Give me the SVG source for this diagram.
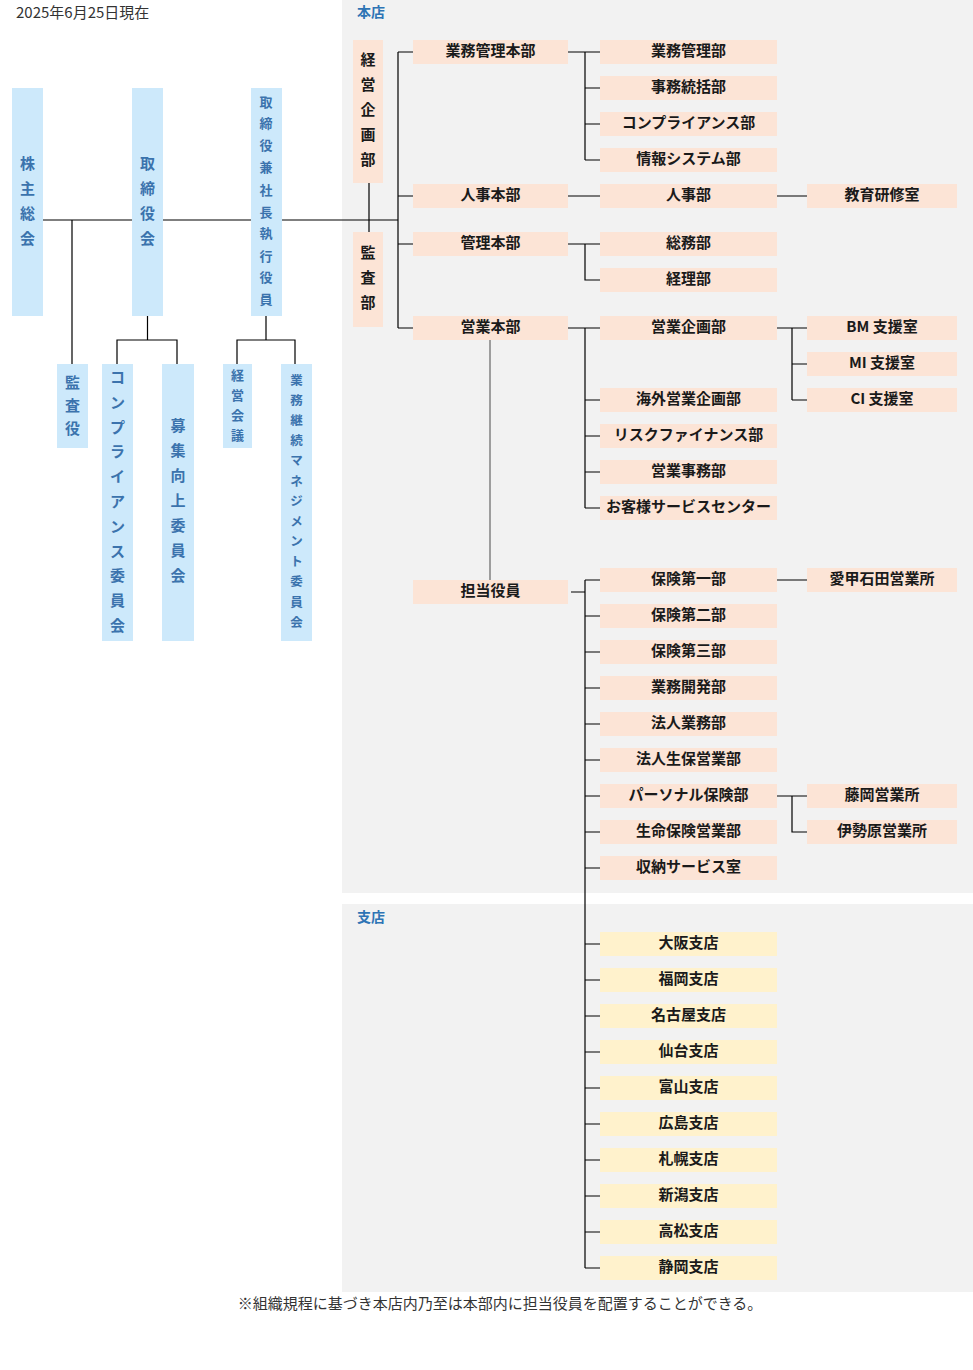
<svg xmlns="http://www.w3.org/2000/svg" width="973" height="1370" viewBox="0 0 973 1370">
<style>
.bg{fill:#f2f2f2}
.hb{fill:#fce4d6}
.yb{fill:#fff2cc}
.bb{fill:#cde9fb}
.t{font-family:"Noto Sans CJK JP","Noto Sans",sans-serif;font-weight:bold;font-size:15px;fill:#1a1a1a;text-anchor:middle;dominant-baseline:central;transform:translate(0px,-1.5px)}
.v{font-family:"Noto Sans CJK JP","Noto Sans",sans-serif;font-weight:bold;font-size:15px;fill:#3b73ad;text-anchor:middle;dominant-baseline:central;transform:translate(0px,-1.5px)}
.vs{font-size:13px}
.vx{font-size:12.5px}
.lbl{font-family:"Noto Sans CJK JP","Noto Sans",sans-serif;font-weight:bold;font-size:14px;fill:#2e74b5;dominant-baseline:central;transform:translate(0px,-1px)}
.n{font-family:"Noto Sans CJK JP","Noto Sans",sans-serif;font-size:15px;fill:#333;dominant-baseline:central;transform:translate(0px,-1px)}
.c{stroke:#000;stroke-width:1.2;fill:none}
.g{stroke:#666;stroke-width:1.2;fill:none}
</style>
<rect width="973" height="1370" fill="#fff"/>
<rect class="bg" x="342" y="0" width="631" height="893"/>
<rect class="bg" x="342" y="904" width="631" height="388"/>
<text class="n" x="16" y="12" font-size="15.5">2025年6月25日現在</text>
<text class="lbl" x="357" y="12">本店</text>
<text class="lbl" x="357" y="917">支店</text>
<text class="n" x="500" y="1303" text-anchor="middle">※組織規程に基づき本店内乃至は本部内に担当役員を配置することができる。</text>

<g id="connectors">
<path class="c" d="M43 220H398M72 220V364M147.5 316V340M117 364V340H177V364M266 316V340M237 364V340H295V364M369 183V232"/>
<path class="c" d="M398 52V328M398 52H413M398 196H413M398 244H413M398 328H413"/>
<path class="c" d="M568 52H600M585 52V160M585 88H600M585 124H600M585 160H600"/>
<path class="c" d="M568 196H600M777 196H807"/>
<path class="c" d="M568 244H600M585 244V280H600"/>
<path class="c" d="M568 328H600M585 328V508M585 400H600M585 436H600M585 472H600M585 508H600"/>
<path class="c" d="M777 328H807M792 328V400M792 364H807M792 400H807"/>
<path class="g" d="M490 340V580"/>
<path class="c" d="M571 592H585M585 580V1268M585 580H600M585 616H600M585 652H600M585 688H600M585 724H600M585 760H600M585 796H600M585 832H600M585 868H600"/>
<path class="c" d="M777 580H807M777 796H807M792 796V832H807"/>
<path class="c" d="M585 944H600M585 980H600M585 1016H600M585 1052H600M585 1088H600M585 1124H600M585 1160H600M585 1196H600M585 1232H600M585 1268H600"/>
</g>

<g id="kabunushi"><rect class="bb" x="12" y="88" width="31" height="228"/><text class="v"><tspan x="27.5" y="163">株</tspan><tspan x="27.5" y="188">主</tspan><tspan x="27.5" y="213">総</tspan><tspan x="27.5" y="238">会</tspan></text></g>
<g id="torishimariyakukai"><rect class="bb" x="132" y="88" width="31" height="228"/><text class="v"><tspan x="147.5" y="163">取</tspan><tspan x="147.5" y="188">締</tspan><tspan x="147.5" y="213">役</tspan><tspan x="147.5" y="238">会</tspan></text></g>
<g id="shacho"><rect class="bb" x="251" y="88" width="31" height="228"/><text class="v vs"><tspan x="266" y="102">取</tspan><tspan x="266" y="123">締</tspan><tspan x="266" y="145">役</tspan><tspan x="266" y="167">兼</tspan><tspan x="266" y="190">社</tspan><tspan x="266" y="212">長</tspan><tspan x="266" y="233">執</tspan><tspan x="266" y="256">行</tspan><tspan x="266" y="277">役</tspan><tspan x="266" y="299">員</tspan></text></g>
<g id="kansayaku"><rect class="bb" x="57" y="364" width="31" height="84"/><text class="v"><tspan x="72.5" y="382">監</tspan><tspan x="72.5" y="405">査</tspan><tspan x="72.5" y="428">役</tspan></text></g>
<g id="compliance-iinkai"><rect class="bb" x="102" y="364" width="31" height="277"/><text class="v"><tspan x="117.5" y="377">コ</tspan><tspan x="117.5" y="402">ン</tspan><tspan x="117.5" y="427">プ</tspan><tspan x="117.5" y="451">ラ</tspan><tspan x="117.5" y="476">イ</tspan><tspan x="117.5" y="501">ア</tspan><tspan x="117.5" y="526">ン</tspan><tspan x="117.5" y="551">ス</tspan><tspan x="117.5" y="575">委</tspan><tspan x="117.5" y="600">員</tspan><tspan x="117.5" y="625">会</tspan></text></g>
<g id="boshu-iinkai"><rect class="bb" x="162" y="364" width="32" height="277"/><text class="v"><tspan x="178" y="425">募</tspan><tspan x="178" y="450">集</tspan><tspan x="178" y="475">向</tspan><tspan x="178" y="500">上</tspan><tspan x="178" y="525">委</tspan><tspan x="178" y="550">員</tspan><tspan x="178" y="575">会</tspan></text></g>
<g id="keiei-kaigi"><rect class="bb" x="223" y="364" width="29" height="84"/><text class="v vs"><tspan x="237.5" y="375">経</tspan><tspan x="237.5" y="395">営</tspan><tspan x="237.5" y="415">会</tspan><tspan x="237.5" y="435">議</tspan></text></g>
<g id="bcm-iinkai"><rect class="bb" x="281" y="364" width="31" height="277"/><text class="v vx"><tspan x="296.5" y="380">業</tspan><tspan x="296.5" y="400">務</tspan><tspan x="296.5" y="420">継</tspan><tspan x="296.5" y="440">続</tspan><tspan x="296.5" y="460">マ</tspan><tspan x="296.5" y="481">ネ</tspan><tspan x="296.5" y="501">ジ</tspan><tspan x="296.5" y="521">メ</tspan><tspan x="296.5" y="541">ン</tspan><tspan x="296.5" y="561">ト</tspan><tspan x="296.5" y="581">委</tspan><tspan x="296.5" y="602">員</tspan><tspan x="296.5" y="622">会</tspan></text></g>

<g id="keiei-kikakubu"><rect class="hb" x="353" y="40" width="30" height="143"/><text class="t"><tspan x="368" y="59">経</tspan><tspan x="368" y="84">営</tspan><tspan x="368" y="109">企</tspan><tspan x="368" y="134">画</tspan><tspan x="368" y="159">部</tspan></text></g>
<g id="kansabu"><rect class="hb" x="353" y="232" width="30" height="95"/><text class="t"><tspan x="368" y="252">監</tspan><tspan x="368" y="277">査</tspan><tspan x="368" y="302">部</tspan></text></g>

<g id="gyomu-kanri-honbu"><rect class="hb" x="413" y="40" width="155" height="24"/><text class="t" x="490.5" y="51">業務管理本部</text></g>
<g id="jinji-honbu"><rect class="hb" x="413" y="184" width="155" height="24"/><text class="t" x="490.5" y="195">人事本部</text></g>
<g id="kanri-honbu"><rect class="hb" x="413" y="232" width="155" height="24"/><text class="t" x="490.5" y="243">管理本部</text></g>
<g id="eigyo-honbu"><rect class="hb" x="413" y="316" width="155" height="24"/><text class="t" x="490.5" y="327">営業本部</text></g>
<g id="tanto-yakuin"><rect class="hb" x="413" y="580" width="155" height="24"/><text class="t" x="490.5" y="591">担当役員</text></g>

<g id="gyomu-kanribu"><rect class="hb" x="600" y="40" width="177" height="24"/><text class="t" x="688.5" y="51">業務管理部</text></g>
<g id="jimu-tokatsubu"><rect class="hb" x="600" y="76" width="177" height="24"/><text class="t" x="688.5" y="87">事務統括部</text></g>
<g id="compliancebu"><rect class="hb" x="600" y="112" width="177" height="24"/><text class="t" x="688.5" y="123">コンプライアンス部</text></g>
<g id="joho-systembu"><rect class="hb" x="600" y="148" width="177" height="24"/><text class="t" x="688.5" y="159">情報システム部</text></g>
<g id="jinjibu"><rect class="hb" x="600" y="184" width="177" height="24"/><text class="t" x="688.5" y="195">人事部</text></g>
<g id="somubu"><rect class="hb" x="600" y="232" width="177" height="24"/><text class="t" x="688.5" y="243">総務部</text></g>
<g id="keiribu"><rect class="hb" x="600" y="268" width="177" height="24"/><text class="t" x="688.5" y="279">経理部</text></g>
<g id="eigyo-kikakubu"><rect class="hb" x="600" y="316" width="177" height="24"/><text class="t" x="688.5" y="327">営業企画部</text></g>
<g id="kaigai-eigyo-kikakubu"><rect class="hb" x="600" y="388" width="177" height="24"/><text class="t" x="688.5" y="399">海外営業企画部</text></g>
<g id="risk-financebu"><rect class="hb" x="600" y="424" width="177" height="24"/><text class="t" x="688.5" y="435">リスクファイナンス部</text></g>
<g id="eigyo-jimubu"><rect class="hb" x="600" y="460" width="177" height="24"/><text class="t" x="688.5" y="471">営業事務部</text></g>
<g id="customer-center"><rect class="hb" x="600" y="496" width="177" height="24"/><text class="t" x="688.5" y="507">お客様サービスセンター</text></g>
<g id="hoken1"><rect class="hb" x="600" y="568" width="177" height="24"/><text class="t" x="688.5" y="579">保険第一部</text></g>
<g id="hoken2"><rect class="hb" x="600" y="604" width="177" height="24"/><text class="t" x="688.5" y="615">保険第二部</text></g>
<g id="hoken3"><rect class="hb" x="600" y="640" width="177" height="24"/><text class="t" x="688.5" y="651">保険第三部</text></g>
<g id="gyomu-kaihatsubu"><rect class="hb" x="600" y="676" width="177" height="24"/><text class="t" x="688.5" y="687">業務開発部</text></g>
<g id="hojin-gyomubu"><rect class="hb" x="600" y="712" width="177" height="24"/><text class="t" x="688.5" y="723">法人業務部</text></g>
<g id="hojin-seiho"><rect class="hb" x="600" y="748" width="177" height="24"/><text class="t" x="688.5" y="759">法人生保営業部</text></g>
<g id="personal"><rect class="hb" x="600" y="784" width="177" height="24"/><text class="t" x="688.5" y="795">パーソナル保険部</text></g>
<g id="seimei"><rect class="hb" x="600" y="820" width="177" height="24"/><text class="t" x="688.5" y="831">生命保険営業部</text></g>
<g id="shuno"><rect class="hb" x="600" y="856" width="177" height="24"/><text class="t" x="688.5" y="867">収納サービス室</text></g>

<g id="kyoiku"><rect class="hb" x="807" y="184" width="150" height="24"/><text class="t" x="882" y="195">教育研修室</text></g>
<g id="bm"><rect class="hb" x="807" y="316" width="150" height="24"/><text class="t" x="882" y="327">BM 支援室</text></g>
<g id="mi"><rect class="hb" x="807" y="352" width="150" height="24"/><text class="t" x="882" y="363">MI 支援室</text></g>
<g id="ci"><rect class="hb" x="807" y="388" width="150" height="24"/><text class="t" x="882" y="399">CI 支援室</text></g>
<g id="aikoishida"><rect class="hb" x="807" y="568" width="150" height="24"/><text class="t" x="882" y="579">愛甲石田営業所</text></g>
<g id="fujioka"><rect class="hb" x="807" y="784" width="150" height="24"/><text class="t" x="882" y="795">藤岡営業所</text></g>
<g id="isehara"><rect class="hb" x="807" y="820" width="150" height="24"/><text class="t" x="882" y="831">伊勢原営業所</text></g>

<g id="osaka"><rect class="yb" x="600" y="932" width="177" height="24"/><text class="t" x="688.5" y="943">大阪支店</text></g>
<g id="fukuoka"><rect class="yb" x="600" y="968" width="177" height="24"/><text class="t" x="688.5" y="979">福岡支店</text></g>
<g id="nagoya"><rect class="yb" x="600" y="1004" width="177" height="24"/><text class="t" x="688.5" y="1015">名古屋支店</text></g>
<g id="sendai"><rect class="yb" x="600" y="1040" width="177" height="24"/><text class="t" x="688.5" y="1051">仙台支店</text></g>
<g id="toyama"><rect class="yb" x="600" y="1076" width="177" height="24"/><text class="t" x="688.5" y="1087">富山支店</text></g>
<g id="hiroshima"><rect class="yb" x="600" y="1112" width="177" height="24"/><text class="t" x="688.5" y="1123">広島支店</text></g>
<g id="sapporo"><rect class="yb" x="600" y="1148" width="177" height="24"/><text class="t" x="688.5" y="1159">札幌支店</text></g>
<g id="niigata"><rect class="yb" x="600" y="1184" width="177" height="24"/><text class="t" x="688.5" y="1195">新潟支店</text></g>
<g id="takamatsu"><rect class="yb" x="600" y="1220" width="177" height="24"/><text class="t" x="688.5" y="1231">高松支店</text></g>
<g id="shizuoka"><rect class="yb" x="600" y="1256" width="177" height="24"/><text class="t" x="688.5" y="1267">静岡支店</text></g>
</svg>
